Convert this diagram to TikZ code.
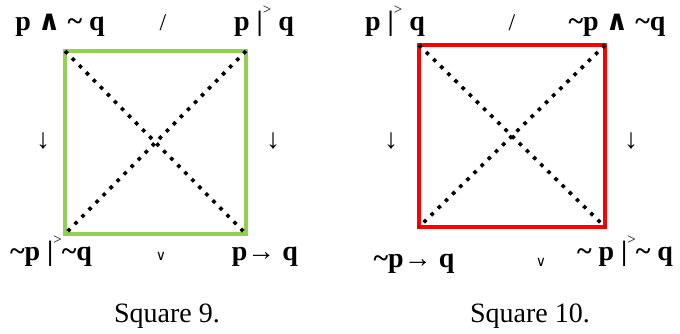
\documentclass[tikz,border=0pt]{standalone}
\usepackage{fontspec}
\setmainfont{Liberation Serif}
\newfontfamily\symfont{DejaVu Serif}
\definecolor{sqgreen}{RGB}{146,208,80}
\definecolor{sqred}{RGB}{255,0,0}
% small symbols used in the labels
\newcommand{\tild}{\textasciitilde}
\newcommand{\barsup}{|\raisebox{0.55em}{\fontsize{15}{15}\selectfont\mdseries >}}
\newcommand{\wedg}{{\symfont\fontsize{28}{28}\selectfont\bfseries ∧}}
\newcommand{\veeop}{{\symfont\fontsize{14}{14}\selectfont\mdseries ∨}}
\begin{document}
\begin{tikzpicture}[x=1pt, y=-1pt,
    every node/.style={font=\fontsize{28}{30}\selectfont\bfseries, anchor=base, inner sep=0pt},
    thinlbl/.style={font=\fontsize{28}{30}\selectfont\mdseries},
    side/.style={line width=4pt, line join=miter},
    diag/.style={line width=3.6pt, line cap=butt, dash pattern=on 3.6pt off 6.4pt}]
  \useasboundingbox (0,0) rectangle (680,333);

  % Square 9 corners
  \coordinate (g1) at (65,51);
  \coordinate (g2) at (246,51);
  \coordinate (g3) at (246,234);
  \coordinate (g4) at (65,234);
  % Square 10 corners
  \coordinate (r1) at (419,45);
  \coordinate (r2) at (605,45);
  \coordinate (r3) at (605,227);
  \coordinate (r4) at (419,227);

  % sides
  \draw[side, sqgreen] (g1) -- (g2) -- (g3) -- (g4) -- cycle;
  \draw[side, sqred] (r1) -- (r2) -- (r3) -- (r4) -- cycle;

  % diagonals
  \draw[diag] (g1) -- (g3);
  \draw[diag] (g2) -- (g4);
  \draw[diag] (r1) -- (r3);
  \draw[diag] (r2) -- (r4);

  % labels of square 9
  \node (a9) at (60,30) {p \wedg{} \tild{} q};
  \node[thinlbl, font=\fontsize{24}{26}\selectfont] (s9) at (163,30) {/};
  \node (b9) at (264,30) {p \barsup{} q};
  \node[thinlbl] (l9) at (43,148) {↓};
  \node[thinlbl] (m9) at (273,148) {↓};
  \node (c9) at (51,260) {\tild p \barsup\tild q};
  \node (v9) at (161,260) {\veeop};
  \node (d9) at (265,260) {p→ q};
  \node[thinlbl] (t9) at (167,322) {Square 9.};

  % labels of square 10
  \node (a10) at (395,30) {p \barsup{} q};
  \node[thinlbl, font=\fontsize{24}{26}\selectfont] (s10) at (512,30) {/};
  \node (b10) at (617,30) {\tild p \wedg{} \tild q};
  \node[thinlbl] (l10) at (391,148) {↓};
  \node[thinlbl] (m10) at (631,148) {↓};
  \node (c10) at (414,267) {\tild p→ q};
  \node (v10) at (541,266) {\veeop};
  \node (d10) at (625,260) {\tild{} p \barsup\tild{} q};
  \node[thinlbl] (t10) at (530,322) {Square 10.};
\end{tikzpicture}
\end{document}
